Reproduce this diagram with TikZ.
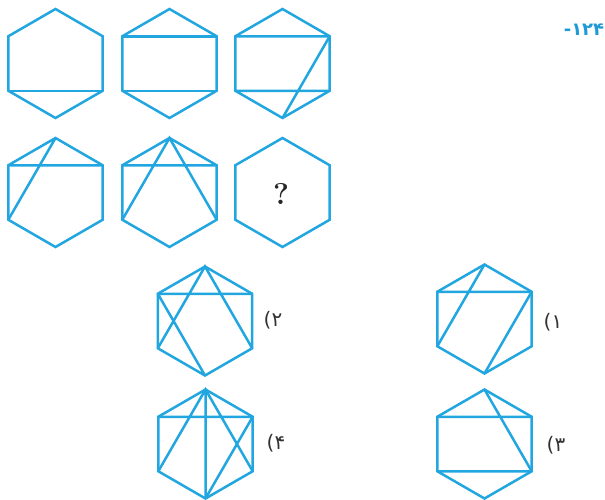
\documentclass[tikz,border=0pt]{standalone}
\usepackage{fontspec}
\newfontfamily\fanum{DejaVu Sans}
\usetikzlibrary{calc}
\definecolor{hexblue}{HTML}{22A6E0}
\definecolor{numblue}{HTML}{1E9BD7}
\tikzset{
  edge/.style={hexblue, line width=2.5pt},
  hexa/.pic={
    \coordinate (-t)  at (90:54.5);
    \coordinate (-ul) at (150:54.5);
    \coordinate (-ll) at (210:54.5);
    \coordinate (-b)  at (270:54.5);
    \coordinate (-lr) at (330:54.5);
    \coordinate (-ur) at (30:54.5);
    \draw[edge] (-t) -- (-ur) -- (-lr) -- (-b) -- (-ll) -- (-ul) -- cycle;
  },
  optlabel/.style={font=\fanum\fontsize{20}{20}\selectfont, inner sep=0pt, text=black!80},
}

\begin{document}
\begin{tikzpicture}[x=1pt, y=1pt]
\useasboundingbox (0,0) rectangle (605,-499);
% question row 1
\pic (h1) at (55.5,-63.5) {hexa};
\pic (h2) at (169.5,-63.5) {hexa};
\pic (h3) at (282.5,-63.5) {hexa};
% question row 2
\pic (h4) at (55.5,-192.5) {hexa};
\pic (h5) at (169.5,-192.5) {hexa};
\pic (h6) at (282.5,-192.5) {hexa};
\node[font=\bfseries\fontsize{30}{30}\selectfont, text=black!85] (qm) at (281,-194) {?};
\draw[edge] (h1-ll) -- (h1-lr);
\draw[edge] (h2-ul) -- (h2-ur) (h2-ll) -- (h2-lr);
\draw[edge] (h3-ul) -- (h3-ur) (h3-ll) -- (h3-lr) (h3-ur) -- (h3-b);
\draw[edge] (h4-ul) -- (h4-ur) (h4-t) -- (h4-ll);
\draw[edge] (h5-ul) -- (h5-ur) (h5-ll) -- (h5-t) -- (h5-lr);
% answer options
\pic (o2) at (205,-321) {hexa};
\pic (o1) at (484.5,-319) {hexa};
\pic (o4) at (205.5,-444) {hexa};
\pic (o3) at (484.5,-444) {hexa};
\draw[edge] (o2-ul) -- (o2-ur) (o2-ll) -- (o2-t) -- (o2-lr) (o2-ul) -- (o2-b);
\draw[edge] (o1-ul) -- (o1-ur) (o1-t) -- (o1-ll) (o1-ur) -- (o1-b);
\draw[edge] (o4-ul) -- (o4-ur) (o4-ll) -- (o4-t) -- (o4-lr) (o4-t) -- (o4-b) (o4-ur) -- (o4-b);
\draw[edge] (o3-ul) -- (o3-ur) (o3-ll) -- (o3-lr) (o3-t) -- (o3-lr);
\node[optlabel] (l2) at (273,-320) {(۲};
\node[optlabel] (l1) at (553,-322) {(۱};
\node[optlabel] (l4) at (276,-443) {(۴};
\node[optlabel] (l3) at (556,-445) {(۳};
\node[font=\fanum\bfseries\fontsize{18}{18}\selectfont, numblue] (num) at (584,-30) {-۱۲۴};
\end{tikzpicture}
\end{document}
